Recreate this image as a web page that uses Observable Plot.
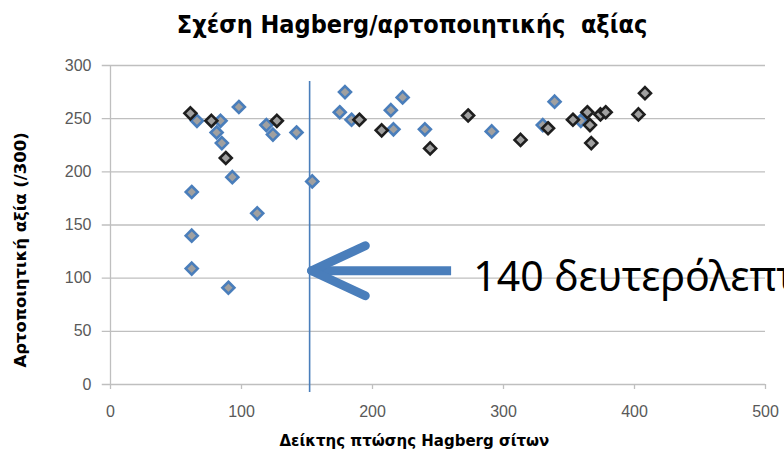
<!DOCTYPE html>
<html>
<head>
<meta charset="utf-8">
<script src="https://cdn.jsdelivr.net/npm/d3@7"></script>
<script src="https://cdn.jsdelivr.net/npm/@observablehq/plot@0.6"></script>
<style>
  html, body { margin: 0; padding: 0; background: #fff; overflow: hidden; }
  #chart svg { overflow: visible; display: block; }
</style>
</head>
<body>
<div id="chart"></div>
<script>
// ---- Data ----
const title = "Σχέση Hagberg/αρτοποιητικής  αξίας";
const xLabel = "Δείκτης πτώσης Hagberg σίτων";
const yLabel = "Αρτοποιητική αξία (/300)";
const annotation = "140 δευτερόλεπτα";
const xTicks = [0, 100, 200, 300, 400, 500];
const yTicks = [0, 50, 100, 150, 200, 250, 300];
const cutoff = 152;
const arrowY = 107;
const arrowTail = 260;

// Series 1 (blue-edged diamonds)
const blueX = [66, 84, 81, 85, 98, 119, 124, 142, 154, 93, 62, 62, 62, 90, 112, 179, 175, 184, 216, 214, 223, 240, 291, 330, 339, 359];
const blueY = [248, 248, 237, 227, 261, 244, 235, 237, 191, 195, 181, 140, 109, 91, 161, 275, 256, 249, 240, 258, 270, 240, 238, 244, 266, 248];
// Series 2 (black-edged diamonds)
const blackX = [61, 77, 88, 127, 190, 207, 244, 273, 313, 334, 353, 364, 366, 367, 374, 378, 403, 408];
const blackY = [255, 248, 213, 248, 249, 239, 222, 253, 230, 241, 249, 256, 244, 227, 254, 256, 254, 274];

const blue = blueX.map((x, i) => ({x, y: blueY[i]}));
const black = blackX.map((x, i) => ({x, y: blackY[i]}));

const axisColor = "#bfbfbf";
const labelColor = "#595959";
const lineBlue = "#4a7ebb";

// arrow built from the cutoff line position
const tipX = cutoff + 1.5;
const wingDX = 41, wingDY = 23.5;
const arrowWings = [
  {x1: tipX, y1: arrowY, x2: tipX + wingDX, y2: arrowY + wingDY},
  {x1: tipX, y1: arrowY, x2: tipX + wingDX, y2: arrowY - wingDY}
];

const chart = Plot.plot({
  width: 784,
  height: 459,
  marginTop: 65,
  marginLeft: 110,
  marginRight: 19,
  marginBottom: 75,
  style: {fontFamily: "'Liberation Sans', Arial, sans-serif", background: "#fff", overflow: "visible"},
  x: {domain: [0, 500]},
  y: {domain: [0, 300]},
  marks: [
    // gridlines with small stubs left of the axis
    Plot.ruleY(yTicks, {x1: -6.3, x2: 500, stroke: axisColor, strokeWidth: 1.3}),
    Plot.ruleX([0], {stroke: axisColor, strokeWidth: 1.3}),
    Plot.ruleX(xTicks, {y1: 0, y2: -4.7, stroke: axisColor, strokeWidth: 1.3}),
    Plot.axisY({ticks: yTicks, tickSize: 0, tickPadding: 19, fontSize: 16, color: labelColor, label: null}),
    Plot.axisX({ticks: xTicks, tickSize: 0, tickPadding: 21, fontSize: 16, color: labelColor, label: null}),
    // vertical cut-off line
    Plot.ruleX([cutoff], {y1: -7.5, y2: 285, stroke: lineBlue, strokeWidth: 1.6}),
    // points
    Plot.dot(blue, {x: "x", y: "y", symbol: "diamond2", r: 5.4, fill: "#a0a0a0", stroke: lineBlue, strokeWidth: 2.6}),
    Plot.dot(black, {x: "x", y: "y", symbol: "diamond2", r: 5.4, fill: "#a0a0a0", stroke: "#1e1e1e", strokeWidth: 2.6}),
    // arrow: shaft + two wings
    Plot.link([{x1: arrowTail, x2: tipX + 3, y: arrowY}], {
      x1: "x1", x2: "x2", y1: "y", y2: "y", stroke: lineBlue, strokeWidth: 9, strokeLinecap: "butt"
    }),
    Plot.link(arrowWings, {
      x1: "x1", y1: "y1", x2: "x2", y2: "y2", stroke: lineBlue, strokeWidth: 9, strokeLinecap: "round"
    }),
    // annotation text (runs off the right edge, as in the original slide)
    Plot.text([annotation], {x: 277, y: 100.4, text: d => d, textAnchor: "start", lineAnchor: "middle",
      fontSize: 41, fill: "#000", fontFamily: "'Noto Sans', 'Open Sans', sans-serif"}),
    // title
    Plot.text([title], {frameAnchor: "top", dx: -26, dy: -41, text: d => d, lineAnchor: "middle",
      fontSize: 25, fill: "#000", fontWeight: "bold", fontFamily: "'Liberation Sans Narrow', 'DejaVu Sans Condensed', sans-serif"}),
    // axis titles
    Plot.text([xLabel], {x: 232, y: -53.5, text: d => d, lineAnchor: "middle", textAnchor: "middle",
      fontSize: 15, fontWeight: "bold", fill: "#000", fontFamily: "'DejaVu Sans', 'Liberation Sans', sans-serif"}),
    Plot.text([yLabel], {x: -68.7, y: 126.6, rotate: -90, text: d => d, lineAnchor: "middle", textAnchor: "middle",
      fontSize: 16.5, fontWeight: "bold", fill: "#000", fontFamily: "'DejaVu Sans', 'Liberation Sans', sans-serif"})
  ]
});
document.getElementById("chart").appendChild(chart);
</script>
</body>
</html>
